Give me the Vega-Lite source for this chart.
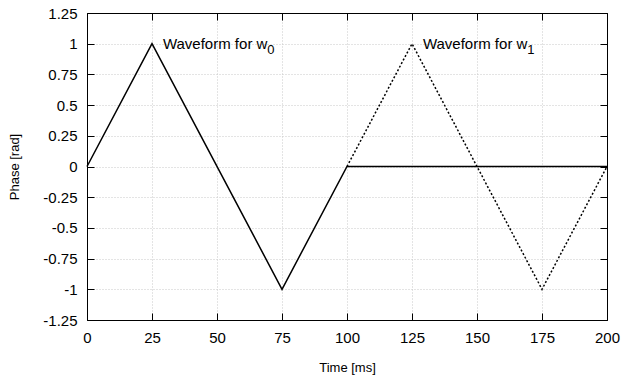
{
  "$schema": "https://vega.github.io/schema/vega-lite/v6.json",
  "autosize": "none",
  "width": 520,
  "height": 307,
  "padding": {"left": 87, "top": 13, "right": 17, "bottom": 55},
  "background": "white",
  "config": {
    "view": {"stroke": "black", "strokeWidth": 1},
    "font": "Liberation Sans",
    "axis": {
      "domainColor": "black",
      "domainWidth": 1,
      "tickColor": "black",
      "tickSize": -7,
      "tickWidth": 1,
      "labelFont": "Liberation Sans",
      "labelFontSize": 15,
      "labelColor": "black",
      "titleFont": "Liberation Sans",
      "titleFontSize": 13,
      "titleFontWeight": "normal",
      "titleColor": "black",
      "gridColor": "#c8c8c8",
      "gridDash": [1, 2],
      "gridWidth": 1
    }
  },
  "datasets": {
    "w0": [
      {"t": 0, "phase": 0},
      {"t": 25, "phase": 1},
      {"t": 75, "phase": -1},
      {"t": 100, "phase": 0},
      {"t": 200, "phase": 0}
    ],
    "w1": [
      {"t": 100, "phase": 0},
      {"t": 125, "phase": 1},
      {"t": 175, "phase": -1},
      {"t": 200, "phase": 0}
    ],
    "labels": [
      {"t": 29.2, "phase": 1, "text": "Waveform for w", "sub": "0", "subt": 69.3},
      {"t": 129.2, "phase": 1, "text": "Waveform for w", "sub": "1", "subt": 169.3}
    ]
  },
  "resolve": {"axis": {"x": "independent", "y": "independent"}},
  "layer": [
    {
      "data": {"name": "w0"},
      "mark": {"type": "line", "color": "black", "strokeWidth": 1.5},
      "encoding": {
        "x": {
          "field": "t", "type": "quantitative",
          "scale": {"domain": [0, 200], "nice": false, "zero": false},
          "axis": {
            "orient": "bottom", "title": "Time [ms]",
            "values": [0, 25, 50, 75, 100, 125, 150, 175, 200],
            "labelPadding": 17, "titlePadding": 16,
            "labelFlush": false, "grid": true
          }
        },
        "y": {
          "field": "phase", "type": "quantitative",
          "scale": {"domain": [-1.25, 1.25], "nice": false, "zero": false},
          "axis": {
            "orient": "left", "title": "Phase [rad]",
            "values": [-1.25, -1, -0.75, -0.5, -0.25, 0, 0.25, 0.5, 0.75, 1, 1.25],
            "labelExpr": "'' + datum.value",
            "labelPadding": 17, "titlePadding": 21,
            "labelFlush": false, "grid": true
          }
        }
      }
    },
    {
      "data": {"name": "w1"},
      "mark": {"type": "line", "color": "black", "strokeWidth": 1.5, "strokeDash": [2, 2]},
      "encoding": {
        "x": {
          "field": "t", "type": "quantitative",
          "axis": {
            "orient": "top", "title": null, "labels": false,
            "values": [0, 25, 50, 75, 100, 125, 150, 175, 200], "grid": false
          }
        },
        "y": {
          "field": "phase", "type": "quantitative",
          "axis": {
            "orient": "right", "title": null, "labels": false,
            "values": [-1.25, -1, -0.75, -0.5, -0.25, 0, 0.25, 0.5, 0.75, 1, 1.25], "grid": false
          }
        }
      }
    },
    {
      "data": {"name": "labels"},
      "mark": {"type": "text", "align": "left", "baseline": "middle", "fontSize": 15, "color": "black"},
      "encoding": {
        "x": {"field": "t", "type": "quantitative", "axis": null},
        "y": {"field": "phase", "type": "quantitative", "axis": null},
        "text": {"field": "text"}
      }
    },
    {
      "data": {"name": "labels"},
      "mark": {"type": "text", "align": "left", "baseline": "middle", "fontSize": 13, "dy": 6, "color": "black"},
      "encoding": {
        "x": {"field": "subt", "type": "quantitative", "axis": null},
        "y": {"field": "phase", "type": "quantitative", "axis": null},
        "text": {"field": "sub"}
      }
    }
  ]
}
